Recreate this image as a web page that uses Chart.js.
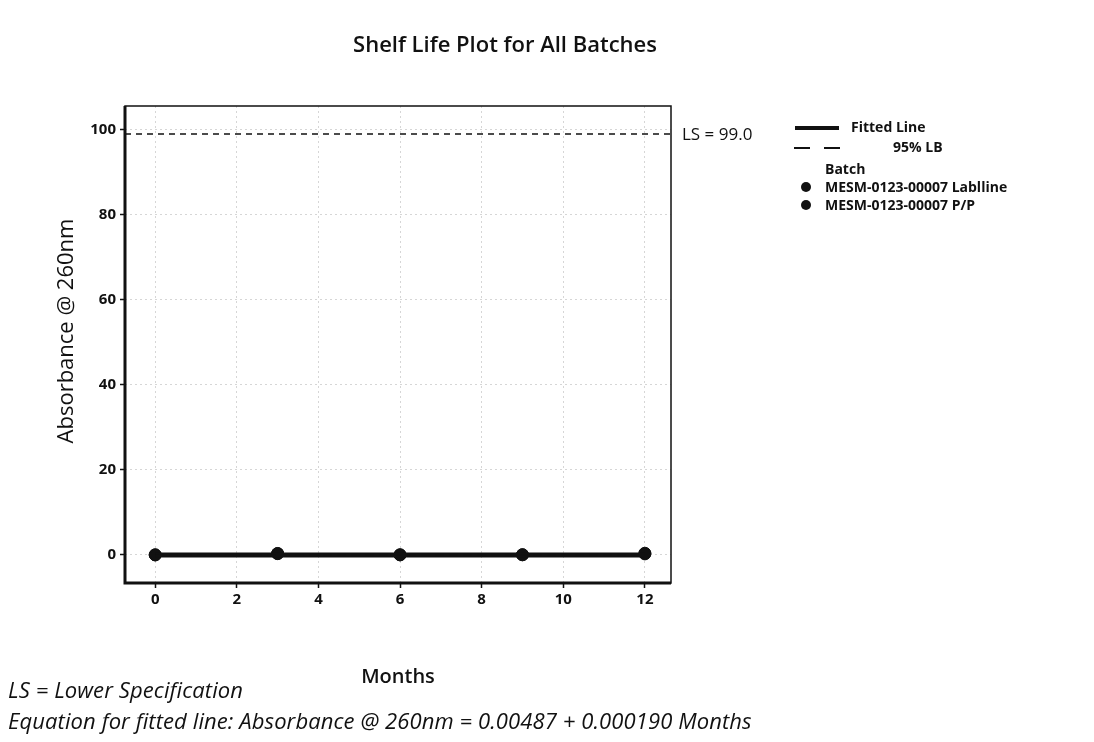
<!DOCTYPE html>
<html>
<head>
  <meta charset="UTF-8">
  <script src="https://cdn.jsdelivr.net/npm/chart.js"></script>
  <title>Shelf Life Plot</title>
  <style>
    body { margin: 0; background: #fff; font-family: "Open Sans", sans-serif; }
    .wrap { position: relative; width: 1094px; height: 742px; }
    .txt { position: absolute; color: #111; white-space: nowrap; }
    .title { left: 0; width: 1010px; top: 28px; text-align: center; font-size: 22px; font-weight: 600; }
    .leg { font-size: 14px; font-weight: 700; }
    .foot { left: 8px; font-size: 22px; font-style: italic; letter-spacing: 0.1px; }
    .line { position: absolute; height: 0; }
    .dot { position: absolute; width: 10px; height: 10px; border-radius: 50%; background: #111; }
  </style>
</head>
<body>
  <div class="wrap">
    <canvas id="shelf" width="1094" height="742"></canvas>
    <div class="txt title">Shelf Life Plot for All Batches</div>

    <div class="line" style="left:795px; top:126px; width:44px; border-top:4px solid #111;"></div>
    <div class="txt leg" style="left:851px; top:117px;">Fitted Line</div>
    <div class="line" style="left:794px; top:147px; width:16px; border-top:2px solid #111;"></div>
    <div class="line" style="left:824px; top:147px; width:16px; border-top:2px solid #111;"></div>
    <div class="txt leg" style="left:893px; top:137px;">95% LB</div>
    <div class="txt leg" style="left:825px; top:159px;">Batch</div>
    <div class="dot" style="left:801px; top:182px;"></div>
    <div class="txt leg" style="left:825px; top:177px;">MESM-0123-00007 Lablline</div>
    <div class="dot" style="left:801px; top:200px;"></div>
    <div class="txt leg" style="left:825px; top:195px;">MESM-0123-00007 P/P</div>

    <div class="txt foot" style="top:674px;">LS = Lower Specification</div>
    <div class="txt foot" style="top:705px;">Equation for fitted line: Absorbance @ 260nm = 0.00487 + 0.000190 Months</div>
  </div>
  <script>
    // values
    var months = [0, 3, 6, 9, 12];
    var lablline = [0.02, 0.35, 0.03, 0.05, 0.25];
    var pp = [0.01, 0.30, 0.02, 0.04, 0.40];
    var fitX = [0, 12];
    var fitY = [0.00487, 0.00715];
    var lbY = [-0.05, -0.03];
    var lsValue = 99.0;
    var xTicks = [0, 2, 4, 6, 8, 10, 12];
    var yTicks = [0, 20, 40, 60, 80, 100];

    function pts(xs, ys) {
      return xs.map(function (x, i) { return { x: x, y: ys[i] }; });
    }

    // frame around plot area, LS label and the y axis title
    var framePlugin = {
      id: 'frame',
      afterDraw: function (c) {
        var a = c.chartArea, g = c.ctx;
        g.save();
        g.strokeStyle = '#111';
        g.lineWidth = 1.5;
        g.strokeRect(a.left, a.top, a.right - a.left, a.bottom - a.top);
        g.lineWidth = 3;
        g.beginPath();
        g.moveTo(a.left, a.top); g.lineTo(a.left, a.bottom); g.lineTo(a.right, a.bottom);
        g.stroke();
        var y = c.scales.y.getPixelForValue(lsValue);
        g.fillStyle = '#111';
        g.font = '17px "Open Sans"';
        g.textBaseline = 'middle';
        g.fillText('LS = ' + lsValue.toFixed(1), a.right + 11, y + 1);
        // y title, sits a bit above the plot centre like the original
        g.translate(67, 331);
        g.rotate(-Math.PI / 2);
        g.textAlign = 'center';
        g.font = '22px "Open Sans"';
        g.fillText('Absorbance @ 260nm', 0, 0);
        g.restore();
      }
    };

    var ctx = document.getElementById('shelf').getContext('2d');
    var chart = new Chart(ctx, {
      type: 'scatter',
      data: {
        datasets: [{
          label: 'LS',
          data: pts([-0.74, 12.64], [lsValue, lsValue]),
          showLine: true,
          borderColor: '#111',
          borderWidth: 1.5,
          borderDash: [6, 5],
          pointRadius: 0
        }, {
          label: '95% LB',
          data: pts(fitX, lbY),
          showLine: true,
          borderColor: '#111',
          borderWidth: 1.5,
          borderDash: [8, 6],
          pointRadius: 0
        }, {
          label: 'Fitted Line',
          data: pts(fitX, fitY),
          showLine: true,
          borderColor: '#111',
          borderWidth: 5,
          pointRadius: 0
        }, {
          label: 'MESM-0123-00007 Lablline',
          data: pts(months, lablline),
          backgroundColor: '#111',
          borderColor: '#111',
          pointRadius: 6
        }, {
          label: 'MESM-0123-00007 P/P',
          data: pts(months, pp),
          backgroundColor: '#111',
          borderColor: '#111',
          pointRadius: 6
        }]
      },
      options: {
        responsive: false,
        animation: false,
        devicePixelRatio: 1,
        layout: { padding: { left: 45, top: 106, right: 423, bottom: 49 } },
        plugins: { legend: { display: false }, tooltip: { enabled: false } },
        scales: {
          x: {
            type: 'linear',
            min: -0.74,
            max: 12.64,
            afterBuildTicks: function (s) { s.ticks = xTicks.map(function (v) { return { value: v }; }); },
            afterFit: function (s) { s.height = 110; },
            grid: { color: '#d6d6d6', tickColor: '#111', tickLength: 5, tickWidth: 1.5 },
            border: { display: false, dash: [2, 3] },
            ticks: { color: '#111', font: { family: 'Open Sans', size: 15, weight: '700' }, padding: 3 },
            title: { display: true, text: 'Months', color: '#111', font: { family: 'Open Sans', size: 20, weight: '600' }, padding: { top: 0, bottom: 4 } }
          },
          y: {
            min: -6.6,
            max: 105.6,
            afterBuildTicks: function (s) { s.ticks = yTicks.map(function (v) { return { value: v }; }); },
            afterFit: function (s) { s.width = 80; },
            grid: { color: '#d6d6d6', tickColor: '#111', tickLength: 5, tickWidth: 1.5 },
            border: { display: false, dash: [2, 3] },
            ticks: { color: '#111', font: { family: 'Open Sans', size: 15, weight: '700' }, padding: 4 }
          }
        }
      },
      plugins: [framePlugin]
    });
  </script>
</body>
</html>
